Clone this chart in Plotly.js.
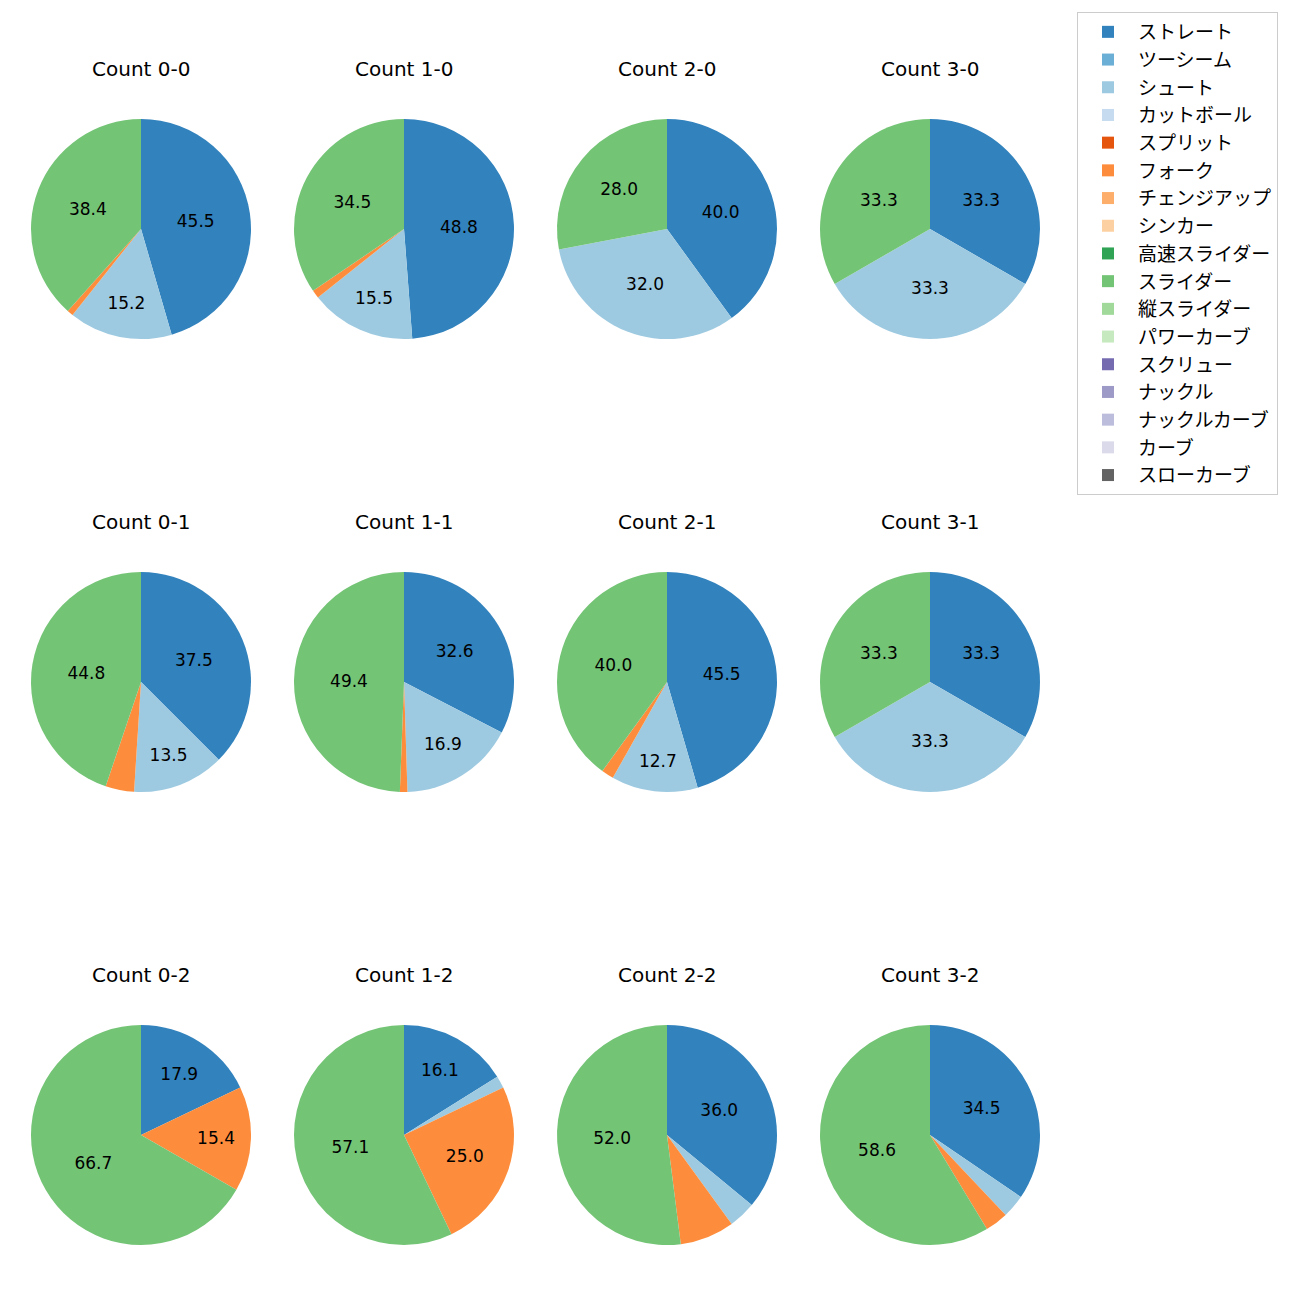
<!DOCTYPE html>
<html>
<head>
<meta charset="utf-8">
<script src="https://cdn.plot.ly/plotly-3.0.1.min.js"></script>
<style>html,body{margin:0;padding:0;background:#fff;}</style>
</head>
<body>
<div id="chart" style="width:1300px;height:1300px;"></div>
<script>
// Pitch types (legend order) and their colours
const pitchTypes = ['ストレート','ツーシーム','シュート','カットボール','スプリット','フォーク','チェンジアップ','シンカー','高速スライダー','スライダー','縦スライダー','パワーカーブ','スクリュー','ナックル','ナックルカーブ','カーブ','スローカーブ'];
const pitchColors = ['#3182bd','#6baed6','#9ecae1','#c6dbef','#e6550d','#fd8d3c','#fdae6b','#fdd0a2','#31a354','#74c476','#a1d99b','#c7e9c0','#756bb1','#9e9ac8','#bcbddc','#dadaeb','#636363'];

// Counts (balls-strikes) in grid order
const countLabels = ['Count 0-0','Count 1-0','Count 2-0','Count 3-0',
                     'Count 0-1','Count 1-1','Count 2-1','Count 3-1',
                     'Count 0-2','Count 1-2','Count 2-2','Count 3-2'];

// Share (%) per pitch type, in pitchTypes order
const c00 = [45.5,0,15.2,0,0,0.9,0,0,0,38.4,0,0,0,0,0,0,0];
const c10 = [48.8,0,15.5,0,0,1.2,0,0,0,34.5,0,0,0,0,0,0,0];
const c20 = [40.0,0,32.0,0,0,0,0,0,0,28.0,0,0,0,0,0,0,0];
const c30 = [33.3,0,33.3,0,0,0,0,0,0,33.3,0,0,0,0,0,0,0];
const c01 = [37.5,0,13.5,0,0,4.2,0,0,0,44.8,0,0,0,0,0,0,0];
const c11 = [32.6,0,16.9,0,0,1.1,0,0,0,49.4,0,0,0,0,0,0,0];
const c21 = [45.5,0,12.7,0,0,1.8,0,0,0,40.0,0,0,0,0,0,0,0];
const c31 = [33.3,0,33.3,0,0,0,0,0,0,33.3,0,0,0,0,0,0,0];
const c02 = [17.9,0,0,0,0,15.4,0,0,0,66.7,0,0,0,0,0,0,0];
const c12 = [16.1,0,1.8,0,0,25.0,0,0,0,57.1,0,0,0,0,0,0,0];
const c22 = [36.0,0,4.0,0,0,8.0,0,0,0,52.0,0,0,0,0,0,0,0];
const c32 = [34.5,0,3.4,0,0,3.4,0,0,0,58.6,0,0,0,0,0,0,0];
const countValues = [c00,c10,c20,c30,c01,c11,c21,c31,c02,c12,c22,c32];

const FONT = '"DejaVu Sans", "Noto Sans CJK JP", sans-serif';
const JFONT = '"Noto Sans CJK JP", "DejaVu Sans", sans-serif';
const W = 1300, H = 1300;
const colCenters = [141, 404, 667, 930];
const rowCenters = [229, 682, 1135];
const R = 110;

const traces = [];
const annotations = [];
countValues.forEach((vals, i) => {
  const col = i % 4, row = Math.floor(i / 4);
  const cx = colCenters[col], cy = rowCenters[row];
  traces.push({
    type: 'pie',
    labels: pitchTypes,
    values: vals,
    sort: false,
    direction: 'clockwise',
    rotation: 0,
    marker: {colors: pitchColors, line: {width: 0}},
    text: vals.map(v => (v >= 10 ? v.toFixed(1) : '')),
    textinfo: 'text',
    textposition: 'inside',
    insidetextorientation: 'horizontal',
    textfont: {family: FONT, size: 17, color: '#000'},
    hoverinfo: 'skip',
    showlegend: i === 0,
    domain: {x: [(cx - R) / W, (cx + R) / W], y: [1 - (cy + R) / H, 1 - (cy - R) / H]}
  });
  annotations.push({
    text: countLabels[i], xref: 'paper', yref: 'paper',
    x: cx / W, y: 1 - (cy - 160) / H, xanchor: 'center', yanchor: 'middle',
    showarrow: false, font: {family: FONT, size: 20, color: '#000'}
  });
});

const layout = {
  width: W, height: H,
  margin: {l: 0, r: 0, t: 0, b: 0},
  paper_bgcolor: '#fff',
  showlegend: true,
  legend: {
    x: 1077 / W, y: 1 - 12 / H, xanchor: 'left', yanchor: 'top',
    bordercolor: '#cccccc', borderwidth: 1,
    itemwidth: 50,
    font: {family: JFONT, size: 19, color: '#000'},
    traceorder: 'normal'
  },
  annotations: annotations
};

Plotly.newPlot('chart', traces, layout, {displayModeBar: false, staticPlot: true});
</script>
</body>
</html>
